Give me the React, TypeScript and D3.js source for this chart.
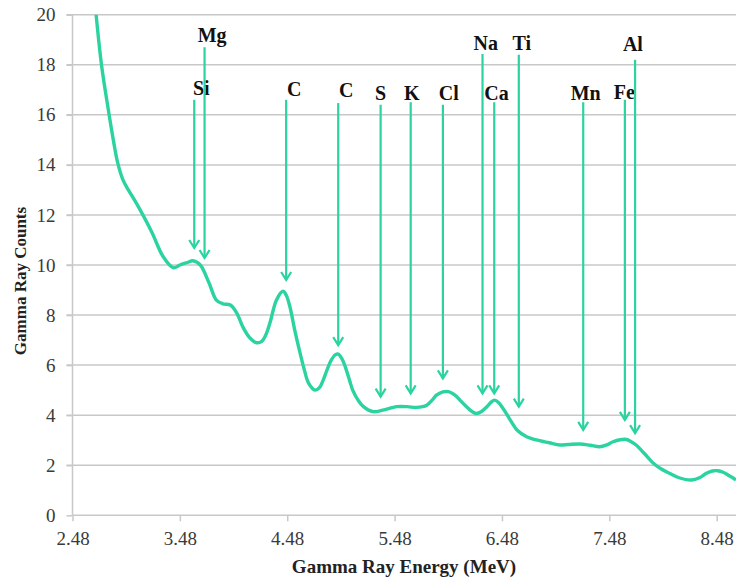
import { useEffect, useRef } from 'react'
import * as d3 from 'd3'

const WIDTH = 736
const HEIGHT = 579
const MARGIN = { top: 14.7, right: 0, bottom: 63.7, left: 72.5 }

const X_DOMAIN = [2.48, 8.66]
const X_TICKS = [2.48, 3.48, 4.48, 5.48, 6.48, 7.48, 8.48]
const Y_TICKS = [0, 2, 4, 6, 8, 10, 12, 14, 16, 18, 20]

// spectrum
const ENERGY = [
  2.68, 2.7, 2.75, 2.81, 2.86, 2.9, 2.95, 3.0, 3.05, 3.11, 3.22, 3.325, 3.42, 3.48, 3.55, 3.6, 3.67,
  3.75, 3.82, 3.88, 3.95, 4.01, 4.07, 4.13, 4.19, 4.24, 4.28, 4.32, 4.38, 4.44, 4.47, 4.505,
  4.55, 4.6, 4.64, 4.68, 4.74, 4.78, 4.815, 4.85, 4.89, 4.93, 4.955, 4.99, 5.02, 5.06, 5.09,
  5.14, 5.19, 5.28, 5.37, 5.5, 5.6, 5.685, 5.78, 5.83, 5.87, 5.93, 5.98, 6.02, 6.06, 6.1,
  6.15, 6.2, 6.24, 6.29, 6.34, 6.38, 6.41, 6.45, 6.52, 6.57, 6.62, 6.71, 6.83, 6.92, 7.02,
  7.1, 7.205, 7.3, 7.39, 7.45, 7.515, 7.58, 7.64, 7.68, 7.73, 7.8, 7.89, 7.96, 8.04, 8.13,
  8.245, 8.32, 8.385, 8.44, 8.49, 8.54, 8.585, 8.63, 8.66,
]
const COUNTS = [
  21.0, 20.0, 18.0, 16.3, 15.0, 14.1, 13.4, 13.0, 12.65, 12.2, 11.3, 10.33, 9.89, 10.0, 10.1, 10.17, 10.0,
  9.3, 8.6, 8.45, 8.4, 8.08, 7.5, 7.1, 6.9, 6.94, 7.2, 7.7, 8.6, 8.95, 8.8, 8.33,
  7.4, 6.48, 5.8, 5.27, 5.0, 5.1, 5.4, 5.8, 6.2, 6.42, 6.44, 6.25, 5.94, 5.4, 5.0,
  4.6, 4.34, 4.14, 4.2, 4.34, 4.34, 4.31, 4.4, 4.6, 4.8, 4.93, 4.94, 4.87, 4.74, 4.55,
  4.34, 4.15, 4.07, 4.15, 4.34, 4.52, 4.6, 4.5, 4.07, 3.72, 3.41, 3.14, 2.98, 2.9, 2.81,
  2.83, 2.85, 2.8, 2.74, 2.8, 2.94, 3.02, 3.03, 2.95, 2.81, 2.5, 2.08, 1.86, 1.68, 1.5,
  1.41, 1.5, 1.68, 1.77, 1.78, 1.72, 1.61, 1.5, 1.41,
]

// element markers: arrow x, arrow top, arrow tip, label x, label baseline (data units)
const ELEMENTS = ['Si', 'Mg', 'C', 'C', 'S', 'K', 'Cl', 'Na', 'Ca', 'Ti', 'Mn', 'Fe', 'Al']
const MARK_X = [3.614, 3.71, 4.47, 4.955, 5.35, 5.63, 5.93, 6.299, 6.408, 6.637, 7.237, 7.625, 7.72]
const MARK_TOP = [16.6, 18.7, 16.6, 16.47, 16.4, 16.5, 16.4, 18.43, 16.5, 18.4, 16.5, 16.6, 18.2]
const MARK_TIP = [10.68, 10.28, 9.4, 6.8, 4.74, 4.87, 5.47, 4.87, 4.87, 4.34, 3.41, 3.81, 3.28]
const LABEL_X = [3.68, 3.78, 4.545, 5.03, 5.35, 5.64, 5.985, 6.33, 6.43, 6.665, 7.26, 7.62, 7.7]
const LABEL_Y = [16.8, 18.9, 16.75, 16.7, 16.6, 16.6, 16.6, 18.6, 16.6, 18.6, 16.6, 16.65, 18.55]

const GREEN = '#2bd3a0'
const GRID = '#c8c8c8'
const TEXT = '#3a3a3a'
const FONT = 'Liberation Serif'

export default function App() {
  const svgRef = useRef<SVGSVGElement>(null)

  useEffect(() => {
    if (!svgRef.current) return
    const svg = d3.select(svgRef.current)
    svg.selectAll('*').remove()

    const x = d3.scaleLinear().domain(X_DOMAIN).range([MARGIN.left, WIDTH - MARGIN.right])
    const y = d3.scaleLinear().domain([0, 20]).range([HEIGHT - MARGIN.bottom, MARGIN.top])

    svg.append('defs').append('clipPath').attr('id', 'plot')
      .append('rect')
      .attr('x', MARGIN.left).attr('y', MARGIN.top)
      .attr('width', WIDTH - MARGIN.left - MARGIN.right)
      .attr('height', HEIGHT - MARGIN.top - MARGIN.bottom)

    // horizontal grid
    svg.selectAll('.grid')
      .data(Y_TICKS.filter(d => d > 0))
      .enter()
      .append('line')
      .attr('x1', MARGIN.left - 6)
      .attr('x2', WIDTH)
      .attr('y1', d => y(d))
      .attr('y2', d => y(d))
      .attr('stroke', GRID)
      .attr('stroke-width', 1.5)

    // y axis
    const yAxis = d3.axisLeft(y).tickValues(Y_TICKS).tickSize(6).tickPadding(11).tickFormat(d => String(d))
    svg.append('g')
      .attr('transform', `translate(${MARGIN.left},0)`)
      .call(yAxis)
      .attr('font-family', null)
      .attr('font-size', null)
      .call(g => g.selectAll('.domain, line').attr('stroke', GRID).attr('stroke-width', 1.5))
      .call(g => g.select('.domain').attr('d', `M0,${y(20)}V${y(0)}`))
      .selectAll('text')
      .attr('fill', TEXT)
      .style('font-size', '19px')

    // x axis
    const xAxis = d3.axisBottom(x).tickValues(X_TICKS).tickSize(6).tickPadding(10).tickFormat(d3.format('.2f'))
    svg.append('g')
      .attr('transform', `translate(0,${y(0)})`)
      .call(xAxis)
      .attr('font-family', null)
      .attr('font-size', null)
      .call(g => g.selectAll('.domain, line').attr('stroke', GRID).attr('stroke-width', 1.5))
      .call(g => g.select('.domain').attr('d', `M${MARGIN.left},0H${WIDTH}`))
      .selectAll('text')
      .attr('fill', TEXT)
      .style('font-size', '19px')

    // spectrum
    const points = ENERGY.map((e, i) => [e, COUNTS[i]] as [number, number])
    const line = d3.line<[number, number]>()
      .x(d => x(d[0]))
      .y(d => y(d[1]))
      .curve(d3.curveCatmullRom.alpha(0.5))

    svg.append('path')
      .datum(points)
      .attr('d', line)
      .attr('clip-path', 'url(#plot)')
      .attr('fill', 'none')
      .attr('stroke', GREEN)
      .attr('stroke-width', 3.4)
      .attr('stroke-linejoin', 'round')

    // element arrows
    const marks = svg.append('g')
    ELEMENTS.forEach((el, i) => {
      const mx = x(MARK_X[i])
      const tip = y(MARK_TIP[i])
      marks.append('line')
        .attr('x1', mx).attr('x2', mx)
        .attr('y1', y(MARK_TOP[i])).attr('y2', tip)
        .attr('stroke', GREEN)
        .attr('stroke-width', 2.2)
      marks.append('path')
        .attr('d', `M${mx - 5},${tip - 8}L${mx},${tip}L${mx + 5},${tip - 8}`)
        .attr('fill', 'none')
        .attr('stroke', GREEN)
        .attr('stroke-width', 2.2)
      marks.append('text')
        .text(el)
        .attr('x', x(LABEL_X[i]))
        .attr('y', y(LABEL_Y[i]))
        .attr('text-anchor', 'middle')
        .style('font-weight', 'bold')
        .style('font-size', '20px')
        .attr('fill', '#111')
    })

    // axis titles
    svg.append('text')
      .text('Gamma Ray Energy (MeV)')
      .attr('x', 404)
      .attr('y', 573)
      .attr('text-anchor', 'middle')
      .style('font-weight', 'bold')
      .style('font-size', '19px')
      .attr('fill', '#222')

    svg.append('text')
      .text('Gamma Ray Counts')
      .attr('transform', `translate(26,281) rotate(-90)`)
      .attr('text-anchor', 'middle')
      .style('font-weight', 'bold')
      .style('font-size', '17px')
      .attr('fill', '#222')
  }, [])

  return (
    <svg
      ref={svgRef}
      width={WIDTH}
      height={HEIGHT}
      style={{ position: 'absolute', left: 0, top: 0, background: '#fff', display: 'block', fontFamily: FONT }}
    />
  )
}
